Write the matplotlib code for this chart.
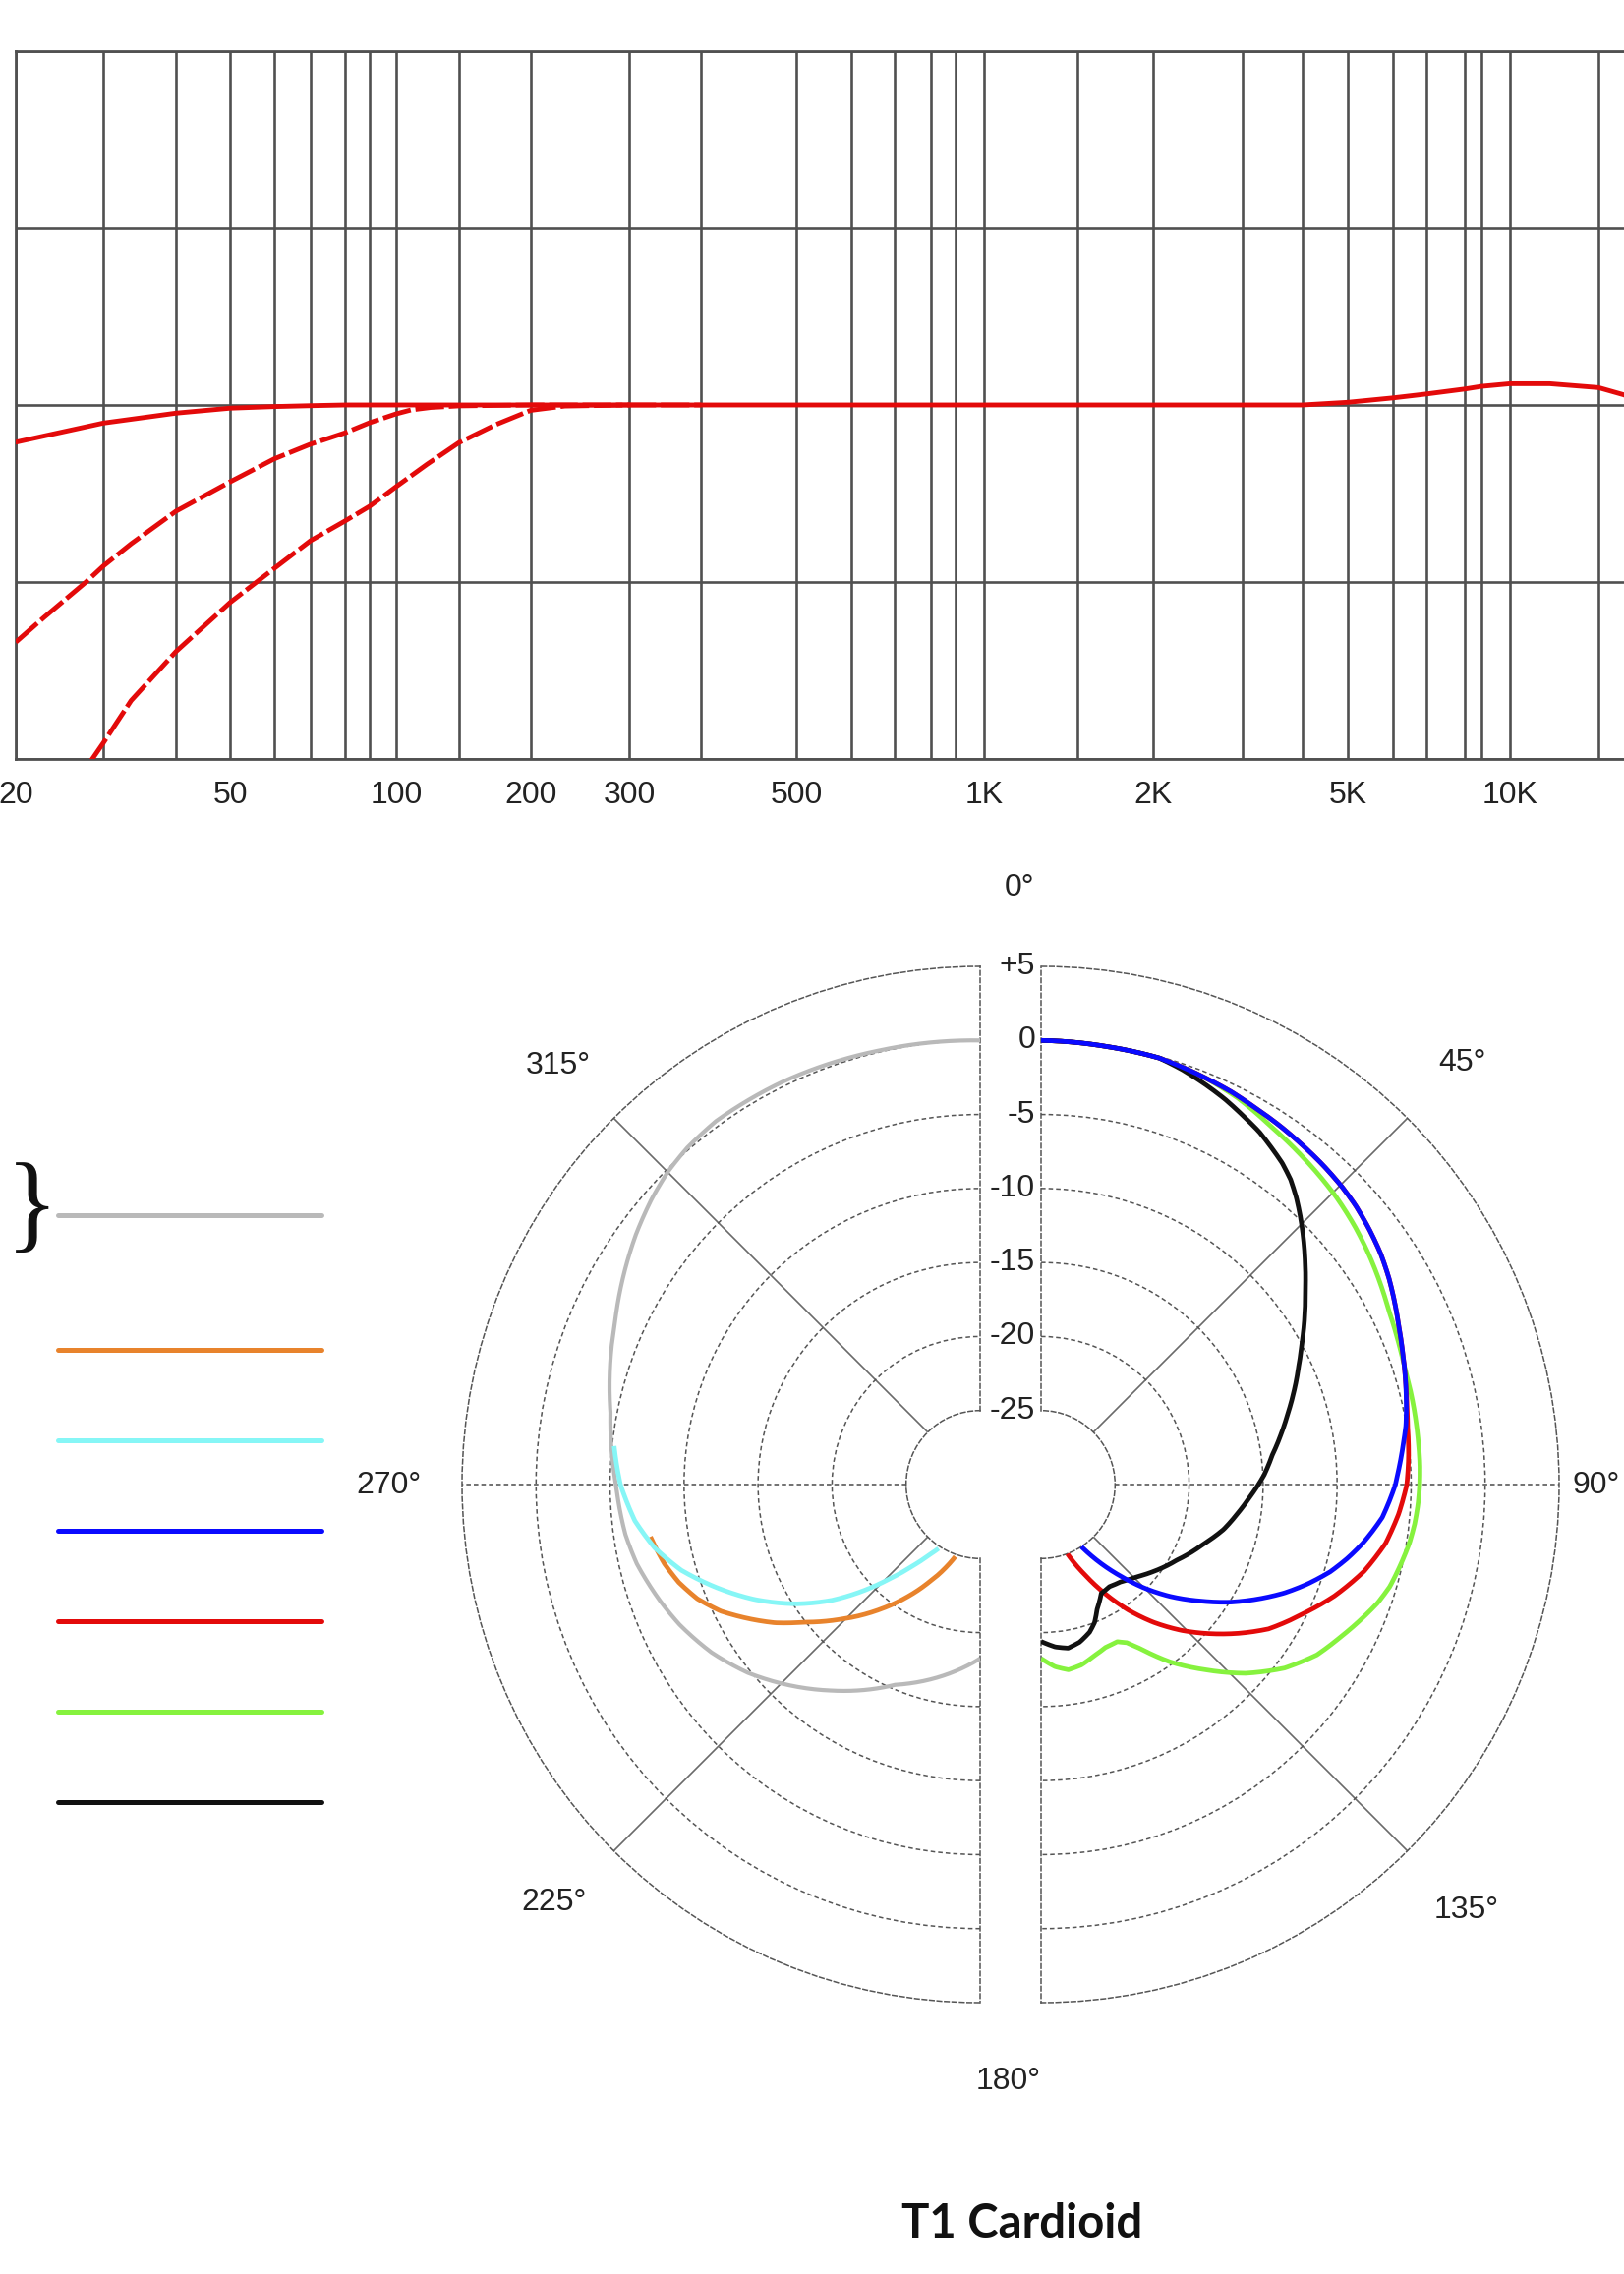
import numpy as np
import matplotlib
matplotlib.use("Agg")
import matplotlib.pyplot as plt
from matplotlib.ticker import NullFormatter
from matplotlib.transforms import offset_copy

W, H = 1652, 2313
DPI = 100

# ---------------- frequency response data ----------------
freq_flat = [20, 22.8, 30, 40, 50, 60, 70, 80, 90, 100, 200, 500, 1000, 2000, 3000, 4000,
             5000, 6000, 7000, 8000, 9000, 10000, 12000, 15000, 16600, 18000, 20000]
db_flat = [-2.1, -1.75, -1.02, -0.46, -0.18, -0.09, -0.04, 0, 0, 0, 0, 0, 0, 0, 0, 0,
           0.15, 0.4, 0.62, 0.9, 1.05, 1.2, 1.2, 0.98, 0.57, 0.0, -0.8]
freq_cut1 = [20, 22.8, 27.7, 30, 33.5, 40, 50, 60, 70, 80, 90, 100, 110, 125, 150, 200, 300]
db_cut1 = [-13.4, -12.0, -10.0, -9.1, -7.84, -6.0, -4.34, -3.04, -2.21, -1.57, -1.0,
           -0.5, -0.28, -0.14, -0.05, 0, 0]
freq_cut2 = [28.2, 30, 33.5, 40, 50, 60, 70, 80, 90, 100, 122, 150, 174, 200, 230, 300, 400]
db_cut2 = [-20.2, -19.1, -16.7, -13.93, -11.16, -9.23, -7.66, -6.55, -5.72, -4.61, -3.35,
           -2.12, -1.1, -0.3, -0.06, 0, 0]

# grid frequencies of the (hand drawn) frequency axis and their tick labels
grid_freqs = [20, 30, 40, 50, 60, 70, 80, 90, 100, 150, 200, 300, 400, 500, 600, 700, 800,
              900, 1000, 1500, 2000, 3000, 4000, 5000, 6000, 7000, 8000, 9000, 10000,
              15000, 20000]
tick_text = {20: "20", 50: "50", 100: "100", 200: "200", 300: "300", 500: "500",
             1000: "1K", 2000: "2K", 5000: "5K", 10000: "10K"}
db_ticks = [-20, -10, 0, 10, 20]

# ---------------- polar data (angle deg, level dB) ----------------
ang_blue = [0, 8.5, 15.5, 22, 25.85, 29.5, 33.76, 37.8, 41.5, 45.3,
            48.47, 52, 55.74, 59.3, 62.76, 66.2, 69.83, 73.4, 77.1, 80.8,
            83.29, 85.8, 87.9, 90, 92.7, 95.5, 97.88, 100.4, 103.5, 106.8,
            110.5, 114, 118, 122, 126, 131, 135, 139, 143, 147]
db_blue = [0, -0.08, -0.1, -0.37, -0.52, -0.72, -0.89, -1.07, -1.22, -1.4,
           -1.6, -1.9, -2.25, -2.67, -3.13, -3.58, -3.98, -4.33, -4.69, -5.03,
           -5.34, -5.62, -5.85, -6.06, -6.44, -6.84, -7.36, -7.92, -8.7, -9.6,
           -10.8, -12.0, -13.5, -15.0, -16.6, -18.5, -20.1, -21.8, -23.4, -25]
ang_red = [0, 8.5, 15.5, 22, 25.85, 29.5, 33.76, 37.8, 41.5, 45.3, 48.47, 52, 55.74,
           59.3, 62.76, 66.2, 69.83, 73.4, 77.1,
           80.8, 85.9, 90, 94.7, 99.7, 105, 110.8, 116, 122.4, 127, 132.1, 136, 140.8,
           145, 149.7, 154, 159.2]
db_red = [0, -0.08, -0.1, -0.37, -0.52, -0.72, -0.89, -1.07, -1.22, -1.4, -1.6, -1.9,
          -2.25, -2.67, -3.13, -3.58, -3.98, -4.33, -4.65,
          -4.92, -5.11, -5.29, -5.76, -6.39, -7.4, -8.8, -10.2, -11.8, -13.3, -15.0,
          -16.3, -18.0, -19.6, -21.5, -23.2, -25]
ang_green = [0, 8.5, 15.5, 22, 27, 32.7, 38.94, 45.6, 50.55, 55,
             59.49, 63.4, 67.47, 71, 74.03, 80.07, 83.6, 87, 90, 93,
             96, 99, 102.4, 106.3, 109.4, 112.9, 117, 121.7, 127, 132.7,
             138.3, 144, 146.6, 148.8, 151.4, 154.1, 158.2, 162.6, 167.4, 171.6,
             175.6, 180]
db_green = [0, -0.08, -0.1, -0.37, -0.7, -1.25, -1.7, -2.15, -2.55, -2.95,
            -3.37, -3.73, -3.97, -4.15, -4.23, -4.31, -4.35, -4.37, -4.42, -4.5,
            -4.62, -4.8, -5.1, -5.45, -5.9, -6.55, -7.3, -8.1, -9.4, -11.2,
            -13.23, -15.2, -16.2, -17.04, -17.83, -18.2, -18.18, -17.9, -17.51, -17.35,
            -17.66, -18.25]
ang_black = [0, 8.5, 15.5, 18.77, 22.3, 25.48, 29, 31.74, 34.2, 36.87, 39.3, 41.64, 43.9,
             46.85, 49.8, 53.1, 56.6, 61.6, 65.37, 70, 74.04, 78.4, 82.72, 87.5, 93.6,
             98.5, 103.8, 110, 119.1, 127.7, 133.7, 140.5, 146.1, 151, 155.8, 158.8,
             161.8, 166.2, 170.6, 175, 180]
db_black = [0, -0.08, -0.1, -0.39, -0.78, -1.15, -1.63, -1.98, -2.4, -2.85, -3.38, -4.05,
            -4.76, -5.7, -6.64, -7.66, -8.64, -9.97, -10.86, -11.84, -12.67, -13.48,
            -14.25, -14.91, -15.9, -16.6, -17.3, -18.3, -19.5, -20.4, -21.0, -21.5, -21.7,
            -21.6, -20.76, -20.0, -19.5, -19.04, -18.8, -18.99, -19.4]
ang_grey = [360, 347, 334, 324, 319, 315, 311, 306, 294, 281, 270, 262, 257, 250, 245, 238,
            231, 216, 203, 180]
db_grey = [0.0, 0.1, 0.3, 0.35, 0.15, -0.15, -0.6, -1.26, -3.0, -4.56, -5.4, -5.8, -6.2,
           -7.0, -7.6, -8.6, -9.8, -12.8, -15.3, -18.25]
ang_cyan = [276, 270, 264, 259, 254, 249, 243, 237, 232, 228, 224, 220, 216, 213]
db_cyan = [-5.14, -5.7, -6.55, -7.6, -9.0, -10.76, -12.9, -15.2, -17.3, -19.2, -21.1,
           -22.75, -24.1, -24.85]
ang_orange = [261, 256, 252, 248, 244, 240, 236, 232, 226, 219, 213, 208, 203, 199]
db_orange = [-7.45, -8.0, -8.6, -9.4, -10.5, -11.9, -13.3, -14.9, -16.9, -19.1, -20.95,
             -22.45, -23.8, -24.85]

ring_levels = [5, 0, -5, -10, -15, -20, -25]
ring_text = ["+5", "0", "-5", "-10", "-15", "-20", "-25"]

C_GREY = "#b9b9b9"
C_ORANGE = "#e8832c"
C_CYAN = "#86f6f6"
C_BLUE = "#0a0aff"
C_RED = "#e30a0a"
C_GREEN = "#86f23e"
C_BLACK = "#111111"

plt.rcParams["font.family"] = ["Liberation Sans", "DejaVu Sans"]

fig = plt.figure(figsize=(W / DPI, H / DPI), dpi=DPI)
fig.patch.set_facecolor("white")


def fx(px):
    return px / W


def fy(py):
    return 1 - py / H


# ---------------- top panel: frequency response ----------------
scale_pos = np.array([16, 105, 179, 234, 279, 316, 351, 376, 403, 467, 540, 640, 713, 810,
                      866, 910, 947, 972, 1001, 1096, 1173, 1264, 1325, 1371, 1417, 1451,
                      1490, 1507, 1536, 1626, 1700], float)
logf = np.log10(np.array(grid_freqs, float))


def fwd(f):
    f = np.asarray(f, float)
    lf = np.log10(np.clip(f, 1e-6, None))
    return np.interp(lf, logf, scale_pos)


def inv(u):
    return 10 ** np.interp(np.asarray(u, float), scale_pos, logf)


ax = fig.add_axes([fx(16), fy(772), (1700 - 16) / W, (772 - 52) / H])
ax.set_xscale("function", functions=(fwd, inv))
ax.set_xlim(20, 20000)
ax.set_ylim(-20, 20)
ax.set_xticks(grid_freqs)
ax.set_xticklabels([tick_text.get(f, "") for f in grid_freqs])
ax.set_yticks(db_ticks)
ax.yaxis.set_major_formatter(NullFormatter())
ax.tick_params(axis="both", length=0, labelsize=23, labelcolor="#222222", pad=16)
ax.grid(True, color="#505050", lw=1.9)
for s in ax.spines.values():
    s.set_color("#505050")
    s.set_linewidth(2.0)

ax.plot(freq_flat, db_flat, color=C_RED, lw=3.5, zorder=4, solid_capstyle="round",
        solid_joinstyle="round")
ax.plot(freq_cut1, db_cut1, color=C_RED, lw=3.5, zorder=4, ls=(0, (6, 1.0)),
        dash_joinstyle="round")
ax.plot(freq_cut2, db_cut2, color=C_RED, lw=3.5, zorder=4, ls=(0, (6, 1.0)),
        dash_joinstyle="round")

# ---------------- polar halves ----------------
R = 527
CY = 1510
RC_X = 1059   # right half centre
LC_X = 997    # left half centre


def make_half(center_x, frac, tmin, tmax):
    left = center_x - frac * 2 * R
    axp = fig.add_axes([fx(left), fy(CY + R), 2 * R / W, 2 * R / H], projection="polar")
    axp.set_theta_zero_location("N")
    axp.set_theta_direction(-1)
    axp.set_thetamin(tmin)
    axp.set_thetamax(tmax)
    axp.set_rorigin(-30)
    axp.set_ylim(-25, 5)
    axp.set_autoscale_on(False)
    axp.patch.set_alpha(0)
    axp.set_xticks([])
    axp.set_yticks([-20, -15, -10, -5, 0])
    axp.yaxis.set_major_formatter(NullFormatter())
    axp.tick_params(length=0)
    axp.yaxis.grid(True, color="#555555", lw=1.1, ls=(0, (3, 2)))
    for nm, sp in axp.spines.items():
        sp.set_color("#555555")
        sp.set_linewidth(1.1)
        sp.set_linestyle((0, (3, 2)))
    return axp


def smooth(line):
    # draw each segment as a polar spiral instead of a straight chord
    line.get_path()._interpolation_steps = 40


axr = make_half(RC_X, 0.25, 0, 180)
axl = make_half(LC_X, 0.75, 180, 360)

for axp, angs in ((axr, (45, 90, 135)), (axl, (225, 270, 315))):
    for a in angs:
        if a in (90, 270):
            axp.plot([np.radians(a)] * 2, [-25, 5], color="#4a4a4a", lw=1.1,
                     ls=(0, (3, 2)), zorder=1)
        else:
            axp.plot([np.radians(a)] * 2, [-25, 5], color="#6a6a6a", lw=1.2, zorder=1)

LW = 3.4
kw = dict(solid_joinstyle="round", solid_capstyle="butt")
smooth(axl.plot(np.radians(ang_grey), db_grey, color=C_GREY, lw=3.0, zorder=3, **kw)[0])
smooth(axl.plot(np.radians(ang_orange), db_orange, color=C_ORANGE, lw=LW, zorder=4, **kw)[0])
smooth(axl.plot(np.radians(ang_cyan), db_cyan, color=C_CYAN, lw=LW, zorder=5, **kw)[0])

smooth(axr.plot(np.radians(ang_green), db_green, color=C_GREEN, lw=LW, zorder=3, **kw)[0])
smooth(axr.plot(np.radians(ang_red), db_red, color=C_RED, lw=LW, zorder=4, **kw)[0])
smooth(axr.plot(np.radians(ang_black), db_black, color=C_BLACK, lw=LW, zorder=5, **kw)[0])
smooth(axr.plot(np.radians(ang_blue), db_blue, color=C_BLUE, lw=LW, zorder=6, **kw)[0])

# ring labels at the top, between the two halves
lab_tr = offset_copy(axr.transData, fig=fig, x=-6, y=0, units="dots")
for lv, tx in zip(ring_levels, ring_text):
    axr.text(0, lv, tx, transform=lab_tr, ha="right", va="center", fontsize=23,
             color="#222222", clip_on=False)

# angle labels
angle_labels = [("0°", 1037, 903, "center"), ("45°", 1487, 1081, "center"),
                ("90°", 1648, 1511, "right"), ("135°", 1492, 1943, "center"),
                ("180°", 1026, 2117, "center"), ("225°", 563, 1935, "center"),
                ("270°", 395, 1511, "center"), ("315°", 568, 1084, "center")]
for tx, px, py, ha in angle_labels:
    fig.text(fx(px), fy(py), tx, ha=ha, va="center", fontsize=23, color="#222222")

# ---------------- legend swatches ----------------
legend_colors = [C_GREY, C_ORANGE, C_CYAN, C_BLUE, C_RED, C_GREEN, C_BLACK]
legend_y = [1236, 1373, 1465, 1557, 1649, 1741, 1833]
axg = fig.add_axes([0, fy(1900), 400 / W, 750 / H])
axg.set_xlim(0, 400)
axg.set_ylim(1900, 1150)
axg.axis("off")
for c, y in zip(legend_colors, legend_y):
    axg.plot([59, 327], [y, y], color=c, lw=3.6, solid_capstyle="round")
axg.text(33, 1232, "}", ha="center", va="center", fontsize=80, color="#111111",
         family=["Liberation Serif", "DejaVu Serif"])

# ---------------- title ----------------
fig.text(fx(1040), fy(2262), "T1 Cardioid", ha="center", va="center", fontsize=34,
         fontweight="bold", family=["Lato", "DejaVu Sans"], color="#111111")

fig.savefig("out.png", dpi=DPI, facecolor="white")
